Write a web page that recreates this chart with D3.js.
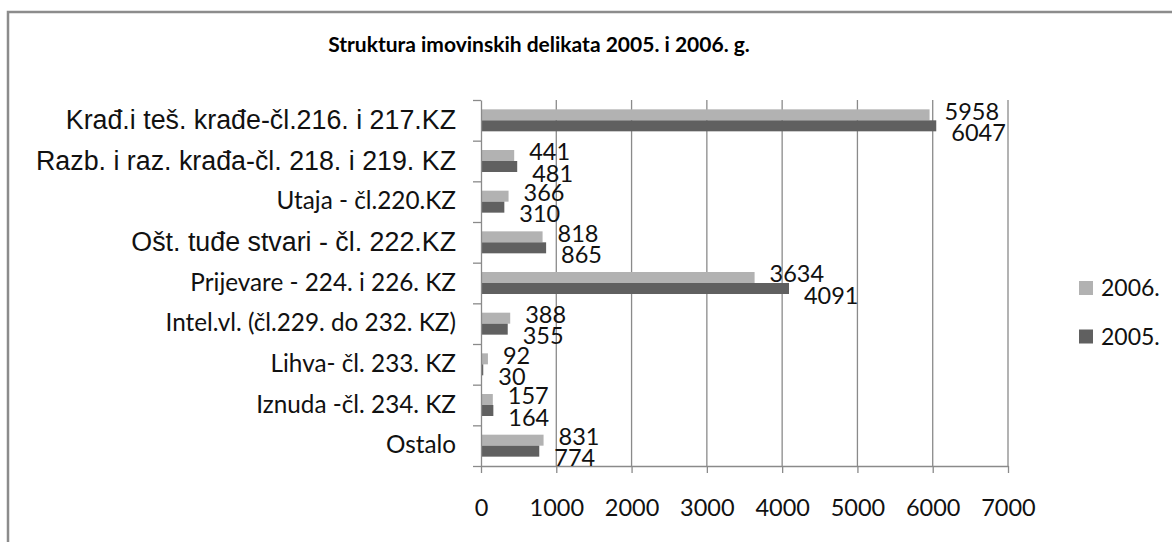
<!DOCTYPE html>
<html>
<head>
<meta charset="utf-8">
<script src="https://cdn.jsdelivr.net/npm/d3@7"></script>
<style>
  html, body { margin: 0; padding: 0; background: #fff; }
  svg { display: block; }
</style>
</head>
<body>
<svg id="chart"></svg>
<script>
// Data
const categories = [
  "Krađ.i teš. krađe-čl.216. i 217.KZ",
  "Razb. i raz. krađa-čl. 218. i 219. KZ",
  "Utaja - čl.220.KZ",
  "Ošt. tuđe stvari - čl. 222.KZ",
  "Prijevare - 224. i 226. KZ",
  "Intel.vl. (čl.229. do 232. KZ)",
  "Lihva- čl. 233. KZ",
  "Iznuda -čl. 234. KZ",
  "Ostalo"
]
const seriesNames = ["2006.", "2005."]
const values2006 = [5958, 441, 366, 818, 3634, 388, 92, 157, 831]
const values2005 = [6047, 481, 310, 865, 4091, 355, 30, 164, 774]
const xTicks = [0, 1000, 2000, 3000, 4000, 5000, 6000, 7000]
const title = "Struktura imovinskih delikata 2005. i 2006. g."

// The source mixes two label fonts; these three are in the Arial-like one
const arialCats = new Set([categories[0], categories[1], categories[3]])

const colors = { "2006.": "#b2b2b2", "2005.": "#606060" }
const gridColor = "#8a8a8a"
const calibri = "Lato, 'Open Sans', sans-serif"
const arial = "'Liberation Sans', Arial, sans-serif"

const width = 1172
const height = 542
const plot = { left: 481, right: 1008, top: 100, bottom: 466 }

const svg = d3.select("#chart")
  .attr("width", width)
  .attr("height", height)

const rows = categories.map((c, i) => ({
  category: c,
  bars: [
    { series: "2006.", value: values2006[i] },
    { series: "2005.", value: values2005[i] }
  ]
}))

const x = d3.scaleLinear()
  .domain([0, 7000])
  .range([plot.left, plot.right])

const y0 = d3.scaleBand()
  .domain(categories)
  .range([plot.top, plot.bottom])
  .padding(0)

const y1 = d3.scaleBand()
  .domain(seriesNames)
  .range([0, y0.bandwidth()])
  .paddingInner(0)
  .paddingOuter(0.85)

renderFrame()
renderTitle()
renderGrid()
renderBars()
renderAxes()
renderLabels()
renderLegend()

function renderFrame() {
  svg.append("rect")
    .attr("x", 8)
    .attr("y", 12)
    .attr("width", width + 40)
    .attr("height", height + 40)
    .attr("fill", "#fff")
    .attr("stroke", "#8c8c8c")
    .attr("stroke-width", 2.5)
}

function renderTitle() {
  svg.append("text")
    .attr("x", 539)
    .attr("y", 52)
    .attr("text-anchor", "middle")
    .attr("font-family", calibri)
    .attr("font-weight", "bold")
    .attr("font-size", 21)
    .attr("fill", "#000")
    .text(title)
}

function renderGrid() {
  svg.append("g")
    .selectAll("line")
    .data(xTicks.filter(d => d > 0))
    .join("line")
    .attr("x1", d => x(d))
    .attr("x2", d => x(d))
    .attr("y1", plot.top)
    .attr("y2", plot.bottom)
    .attr("stroke", gridColor)
    .attr("stroke-width", 1.3)
}

function renderBars() {
  const groups = svg.append("g")
    .selectAll("g")
    .data(rows)
    .join("g")
    .attr("transform", d => `translate(0, ${y0(d.category)})`)

  groups.selectAll("rect")
    .data(d => d.bars)
    .join("rect")
    .attr("x", x(0))
    .attr("y", d => y1(d.series))
    .attr("width", d => x(d.value) - x(0))
    .attr("height", y1.bandwidth())
    .attr("fill", d => colors[d.series])
}

function renderAxes() {
  // category boundaries carry the tick marks on the left axis
  const bounds = d3.scaleLinear()
    .domain([0, categories.length])
    .range([plot.top, plot.bottom])

  svg.append("g")
    .attr("transform", `translate(${plot.left}, 0)`)
    .call(d3.axisLeft(bounds)
      .ticks(categories.length)
      .tickSize(8)
      .tickSizeOuter(0)
      .tickFormat(""))
    .call(g => g.selectAll("line, path")
      .attr("stroke", gridColor)
      .attr("stroke-width", 1.3))

  svg.append("g")
    .attr("transform", `translate(${plot.left - 25}, 0)`)
    .call(d3.axisLeft(y0).tickSize(0).tickPadding(0))
    .call(g => g.select(".domain").remove())
    .call(g => g.selectAll(".tick text")
      .attr("fill", "#111")
      .attr("dy", "0.32em")
      .attr("font-family", d => arialCats.has(d) ? arial : calibri)
      .attr("font-size", d => arialCats.has(d) ? 26.8 : 24.3))

  svg.append("g")
    .attr("transform", `translate(0, ${plot.bottom})`)
    .call(d3.axisBottom(x)
      .tickValues(xTicks)
      .tickFormat(d3.format("d"))
      .tickSize(7)
      .tickSizeOuter(0)
      .tickPadding(26))
    .call(g => g.selectAll("line, path")
      .attr("stroke", gridColor)
      .attr("stroke-width", 1.3))
    .call(g => g.selectAll(".tick text")
      .attr("fill", "#111")
      .attr("font-family", calibri)
      .attr("font-size", 23.5))
}

function renderLabels() {
  const groups = svg.append("g")
    .selectAll("g")
    .data(rows)
    .join("g")
    .attr("transform", d => `translate(0, ${y0(d.category)})`)

  // 2006 labels sit a little above their bar, 2005 labels a little below
  groups.selectAll("text")
    .data(d => d.bars)
    .join("text")
    .attr("x", d => x(d.value) + 15)
    .attr("y", d => y1(d.series) + y1.bandwidth() / 2)
    .attr("dy", d => d.series === "2006." ? "0.2em" : "0.64em")
    .attr("font-family", calibri)
    .attr("font-size", 23.5)
    .attr("fill", "#111")
    .text(d => d.value)
}

function renderLegend() {
  const items = svg.append("g")
    .attr("transform", "translate(1079, 288)")
    .selectAll("g")
    .data(seriesNames)
    .join("g")
    .attr("transform", (d, i) => `translate(0, ${i * 48.5})`)

  items.append("rect")
    .attr("x", 0)
    .attr("y", -7)
    .attr("width", 14)
    .attr("height", 14)
    .attr("fill", d => colors[d])

  items.append("text")
    .attr("x", 22)
    .attr("dy", "0.35em")
    .attr("font-family", calibri)
    .attr("font-size", 23)
    .attr("fill", "#111")
    .text(d => d)
}
</script>
</body>
</html>
